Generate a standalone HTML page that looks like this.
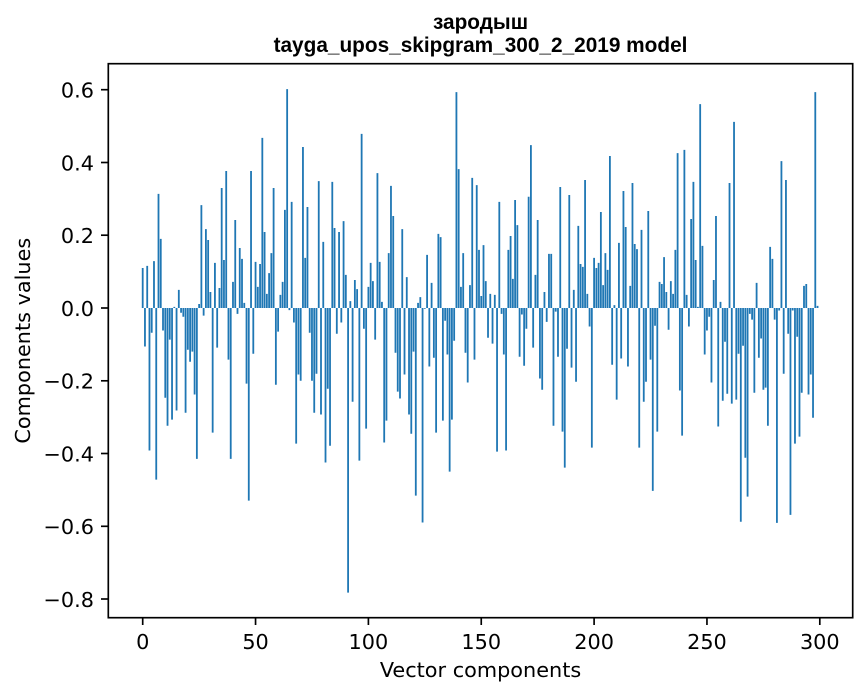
<!DOCTYPE html>
<html>
<head>
<meta charset="utf-8">
<style>
html,body{margin:0;padding:0;background:#fff;}
svg{display:block;}
.t{font-family:"DejaVu Sans","Liberation Sans",sans-serif;font-size:20.8px;fill:#000;}
.ti{font-family:"Liberation Sans","DejaVu Sans",sans-serif;font-size:20.8px;font-weight:bold;fill:#000;}
</style>
</head>
<body>
<svg width="867" height="696" viewBox="0 0 867 696" xmlns="http://www.w3.org/2000/svg">
<rect x="0" y="0" width="867" height="696" fill="#fff"/>
<g transform="translate(142.7,308) scale(2.257,-363.5)">
<path fill="#1f77b4" d="M-.4 0
h.8v.11h-.8zm1 0h.8v-.106h-.8zm1 0h.8v.116h-.8zm1 0h.8v-.392h-.8zm1 0h.8v-.068h-.8zm1 0h.8v.129h-.8zm1 0h.8v-.472h-.8zm1 0h.8v.314h-.8zm1 0h.8v.19h-.8zm1 0h.8v-.062h-.8zm1 0
h.8v-.247h-.8zm1 0h.8v-.324h-.8zm1 0h.8v-.087h-.8zm1 0h.8v-.307h-.8zm1 0h.8v.003h-.8zm1 0h.8v-.282h-.8zm1 0h.8v.05h-.8zm1 0h.8v-.013h-.8zm1 0h.8v-.024h-.8zm1 0h.8v-.288h-.8zm1 0
h.8v-.115h-.8zm1 0h.8v-.148h-.8zm1 0h.8v-.12h-.8zm1 0h.8v-.238h-.8zm1 0h.8v-.415h-.8zm1 0h.8v.011h-.8zm1 0h.8v.283h-.8zm1 0h.8v-.021h-.8zm1 0h.8v.217h-.8zm1 0h.8v.187h-.8zm1 0
h.8v.044h-.8zm1 0h.8v-.343h-.8zm1 0h.8v.124h-.8zm1 0h.8v-.109h-.8zm1 0h.8v.055h-.8zm1 0h.8v.33h-.8zm1 0h.8v.132h-.8zm1 0h.8v.377h-.8zm1 0h.8v-.142h-.8zm1 0h.8v-.415h-.8zm1 0
h.8v.072h-.8zm1 0h.8v.242h-.8zm1 0h.8v-.016h-.8zm1 0h.8v.165h-.8zm1 0h.8v.135h-.8zm1 0h.8v.014h-.8zm1 0h.8v-.208h-.8zm1 0h.8v-.53h-.8zm1 0h.8v.377h-.8zm1 0h.8v-.126h-.8zm1 0
h.8v.127h-.8zm1 0h.8v.058h-.8zm1 0h.8v.121h-.8zm1 0h.8v.468h-.8zm1 0h.8v.209h-.8zm1 0h.8v.039h-.8zm1 0h.8v.096h-.8zm1 0h.8v.151h-.8zm1 0h.8v.33h-.8zm1 0h.8v-.211h-.8zm1 0
h.8v-.065h-.8zm1 0h.8v.036h-.8zm1 0h.8v.072h-.8zm1 0h.8v.27h-.8zm1 0h.8v.602h-.8zm1 0h.8v-.006h-.8zm1 0h.8v.292h-.8zm1 0h.8v-.04h-.8zm1 0h.8v-.373h-.8zm1 0h.8v-.183h-.8zm1 0
h.8v-.2h-.8zm1 0h.8v.443h-.8zm1 0h.8v.138h-.8zm1 0h.8v.278h-.8zm1 0h.8v-.068h-.8zm1 0h.8v-.2h-.8zm1 0h.8v-.288h-.8zm1 0h.8v-.181h-.8zm1 0h.8v.349h-.8zm1 0h.8v-.293h-.8zm1 0
h.8v.182h-.8zm1 0h.8v-.425h-.8zm1 0h.8v-.222h-.8zm1 0h.8v-.379h-.8zm1 0h.8v.347h-.8zm1 0h.8v.22h-.8zm1 0h.8v-.071h-.8zm1 0h.8v.209h-.8zm1 0h.8v-.04h-.8zm1 0h.8v.239h-.8zm1 0
h.8v.091h-.8zm1 0h.8v-.783h-.8zm1 0h.8v.019h-.8zm1 0h.8v-.258h-.8zm1 0h.8v.077h-.8zm1 0h.8v.052h-.8zm1 0h.8v-.42h-.8zm1 0h.8v.479h-.8zm1 0h.8v-.057h-.8zm1 0h.8v-.332h-.8zm1 0
h.8v.058h-.8zm1 0h.8v.124h-.8zm1 0h.8v.074h-.8zm1 0h.8v-.087h-.8zm1 0h.8v.371h-.8zm1 0h.8v.127h-.8zm1 0h.8v.017h-.8zm1 0h.8v-.37h-.8zm1 0h.8v-.31h-.8zm1 0h.8v.151h-.8zm1 0
h.8v.336h-.8zm1 0h.8v.253h-.8zm1 0h.8v-.123h-.8zm1 0h.8v-.23h-.8zm1 0h.8v-.249h-.8zm1 0h.8v.217h-.8zm1 0h.8v-.183h-.8zm1 0h.8v.085h-.8zm1 0h.8v-.293h-.8zm1 0h.8v-.346h-.8zm1 0
h.8v-.12h-.8zm1 0h.8v-.516h-.8zm1 0h.8v.014h-.8zm1 0h.8v.03h-.8zm1 0h.8v-.59h-.8zm1 0h.8v-.002h-.8zm1 0h.8v.146h-.8zm1 0h.8v-.161h-.8zm1 0h.8v.069h-.8zm1 0h.8v-.137h-.8zm1 0
h.8v-.343h-.8zm1 0h.8v.204h-.8zm1 0h.8v.195h-.8zm1 0h.8v-.31h-.8zm1 0h.8v-.035h-.8zm1 0h.8v-.128h-.8zm1 0h.8v-.45h-.8zm1 0h.8v-.307h-.8zm1 0h.8v-.09h-.8zm1 0h.8v.594h-.8zm1 0
h.8v.382h-.8zm1 0h.8v.058h-.8zm1 0h.8v.151h-.8zm1 0h.8v-.123h-.8zm1 0h.8v-.205h-.8zm1 0h.8v.063h-.8zm1 0h.8v.358h-.8zm1 0h.8v-.142h-.8zm1 0h.8v.338h-.8zm1 0h.8v.16h-.8zm1 0
h.8v.033h-.8zm1 0h.8v.173h-.8zm1 0h.8v.074h-.8zm1 0h.8v-.082h-.8zm1 0h.8v.039h-.8zm1 0h.8v-.098h-.8zm1 0h.8v.036h-.8zm1 0h.8v-.395h-.8zm1 0h.8v.292h-.8zm1 0h.8v-.016h-.8zm1 0
h.8v-.128h-.8zm1 0h.8v-.392h-.8zm1 0h.8v.16h-.8zm1 0h.8v.198h-.8zm1 0h.8v.08h-.8zm1 0h.8v.297h-.8zm1 0h.8v.228h-.8zm1 0h.8v-.134h-.8zm1 0h.8v-.018h-.8zm1 0h.8v-.159h-.8zm1 0
h.8v-.057h-.8zm1 0h.8v.306h-.8zm1 0h.8v.448h-.8zm1 0h.8v-.109h-.8zm1 0h.8v.091h-.8zm1 0h.8v.242h-.8zm1 0h.8v-.194h-.8zm1 0h.8v-.225h-.8zm1 0h.8v.044h-.8zm1 0h.8v-.038h-.8zm1 0
h.8v.149h-.8zm1 0h.8v.149h-.8zm1 0h.8v-.324h-.8zm1 0h.8v-.01h-.8zm1 0h.8v-.134h-.8zm1 0h.8v.333h-.8zm1 0h.8v-.34h-.8zm1 0h.8v-.439h-.8zm1 0h.8v-.112h-.8zm1 0h.8v.311h-.8zm1 0
h.8v-.164h-.8zm1 0h.8v.05h-.8zm1 0h.8v-.203h-.8zm1 0h.8v.226h-.8zm1 0h.8v.121h-.8zm1 0h.8v.113h-.8zm1 0h.8v.352h-.8zm1 0h.8v.039h-.8zm1 0h.8v-.051h-.8zm1 0h.8v-.384h-.8zm1 0
h.8v.138h-.8zm1 0h.8v.11h-.8zm1 0h.8v.124h-.8zm1 0h.8v.264h-.8zm1 0h.8v.063h-.8zm1 0h.8v.151h-.8zm1 0h.8v.105h-.8zm1 0h.8v.418h-.8zm1 0h.8v-.156h-.8zm1 0h.8v.008h-.8zm1 0
h.8v-.252h-.8zm1 0h.8v.179h-.8zm1 0h.8v-.139h-.8zm1 0h.8v.322h-.8zm1 0h.8v.223h-.8zm1 0h.8v-.161h-.8zm1 0h.8v.061h-.8zm1 0h.8v.344h-.8zm1 0h.8v.176h-.8zm1 0h.8v.162h-.8zm1 0
h.8v-.384h-.8zm1 0h.8v.215h-.8zm1 0h.8v-.258h-.8zm1 0h.8v-.203h-.8zm1 0h.8v.267h-.8zm1 0h.8v-.142h-.8zm1 0h.8v-.503h-.8zm1 0h.8v-.049h-.8zm1 0h.8v-.34h-.8zm1 0h.8v.072h-.8zm1 0
h.8v.066h-.8zm1 0h.8v.14h-.8zm1 0h.8v.044h-.8zm1 0h.8v-.06h-.8zm1 0h.8v.074h-.8zm1 0h.8v.039h-.8zm1 0h.8v.16h-.8zm1 0h.8v.426h-.8zm1 0h.8v-.227h-.8zm1 0h.8v-.351h-.8zm1 0
h.8v.435h-.8zm1 0h.8v.036h-.8zm1 0h.8v-.051h-.8zm1 0h.8v.245h-.8zm1 0h.8v.347h-.8zm1 0h.8v.132h-.8zm1 0h.8v.003h-.8zm1 0h.8v.561h-.8zm1 0h.8v.171h-.8zm1 0h.8v-.128h-.8zm1 0
h.8v-.062h-.8zm1 0h.8v-.024h-.8zm1 0h.8v-.205h-.8zm1 0h.8v.077h-.8zm1 0h.8v.253h-.8zm1 0h.8v-.326h-.8zm1 0h.8v.017h-.8zm1 0h.8v-.255h-.8zm1 0h.8v-.093h-.8zm1 0h.8v-.236h-.8zm1 0
h.8v.344h-.8zm1 0h.8v-.263h-.8zm1 0h.8v.512h-.8zm1 0h.8v-.252h-.8zm1 0h.8v-.126h-.8zm1 0h.8v-.588h-.8zm1 0h.8v-.104h-.8zm1 0h.8v-.412h-.8zm1 0h.8v-.519h-.8zm1 0h.8v-.016h-.8zm1 0
h.8v-.032h-.8zm1 0h.8v-.233h-.8zm1 0h.8v.069h-.8zm1 0h.8v-.137h-.8zm1 0h.8v-.084h-.8zm1 0h.8v-.225h-.8zm1 0h.8v-.219h-.8zm1 0h.8v-.324h-.8zm1 0h.8v.168h-.8zm1 0h.8v.135h-.8zm1 0
h.8v-.032h-.8zm1 0h.8v-.591h-.8zm1 0h.8v-.007h-.8zm1 0h.8v.404h-.8zm1 0h.8v-.181h-.8zm1 0h.8v.352h-.8zm1 0h.8v-.071h-.8zm1 0h.8v-.569h-.8zm1 0h.8v-.007h-.8zm1 0h.8v-.373h-.8zm1 0
h.8v-.079h-.8zm1 0h.8v-.354h-.8zm1 0h.8v-.233h-.8zm1 0h.8v.061h-.8zm1 0h.8v.066h-.8zm1 0h.8v-.238h-.8zm1 0h.8v-.183h-.8zm1 0h.8v-.302h-.8zm1 0h.8v.594h-.8zm1 0h.8v.006h-.8z"/>
</g>

<!-- axes frame -->
<rect x="108.3" y="63.7" width="744.4" height="554" fill="none" stroke="#000" stroke-width="1.67"/>

<!-- y ticks -->
<g stroke="#000" stroke-width="1.67">
<line x1="101" y1="89.7" x2="108.3" y2="89.7"/>
<line x1="101" y1="162.5" x2="108.3" y2="162.5"/>
<line x1="101" y1="235.2" x2="108.3" y2="235.2"/>
<line x1="101" y1="308" x2="108.3" y2="308"/>
<line x1="101" y1="380.8" x2="108.3" y2="380.8"/>
<line x1="101" y1="453.5" x2="108.3" y2="453.5"/>
<line x1="101" y1="526.3" x2="108.3" y2="526.3"/>
<line x1="101" y1="599" x2="108.3" y2="599"/>
</g>
<g class="t" text-anchor="end">
<text x="94" y="97.5">0.6</text>
<text x="94" y="170.3">0.4</text>
<text x="94" y="243">0.2</text>
<text x="94" y="315.8">0.0</text>
<text x="94" y="388.6">−0.2</text>
<text x="94" y="461.3">−0.4</text>
<text x="94" y="534.1">−0.6</text>
<text x="94" y="606.8">−0.8</text>
</g>

<!-- x ticks -->
<g stroke="#000" stroke-width="1.67">
<line x1="142.7" y1="617.7" x2="142.7" y2="625"/>
<line x1="255.55" y1="617.7" x2="255.55" y2="625"/>
<line x1="368.4" y1="617.7" x2="368.4" y2="625"/>
<line x1="481.25" y1="617.7" x2="481.25" y2="625"/>
<line x1="594.1" y1="617.7" x2="594.1" y2="625"/>
<line x1="706.95" y1="617.7" x2="706.95" y2="625"/>
<line x1="819.8" y1="617.7" x2="819.8" y2="625"/>
</g>
<g class="t" text-anchor="middle">
<text x="142.7" y="649">0</text>
<text x="255.55" y="649">50</text>
<text x="368.4" y="649">100</text>
<text x="481.25" y="649">150</text>
<text x="594.1" y="649">200</text>
<text x="706.95" y="649">250</text>
<text x="819.8" y="649">300</text>
</g>

<!-- axis labels -->
<text class="t" x="480.5" y="677" text-anchor="middle">Vector components</text>
<text class="t" transform="translate(30,340.7) rotate(-90)" text-anchor="middle">Components values</text>

<!-- title -->
<text class="ti" x="480.5" y="29" text-anchor="middle">зародыш</text>
<text class="ti" x="480.5" y="52" text-anchor="middle">tayga_upos_skipgram_300_2_2019 model</text>
</svg>
</body>
</html>
